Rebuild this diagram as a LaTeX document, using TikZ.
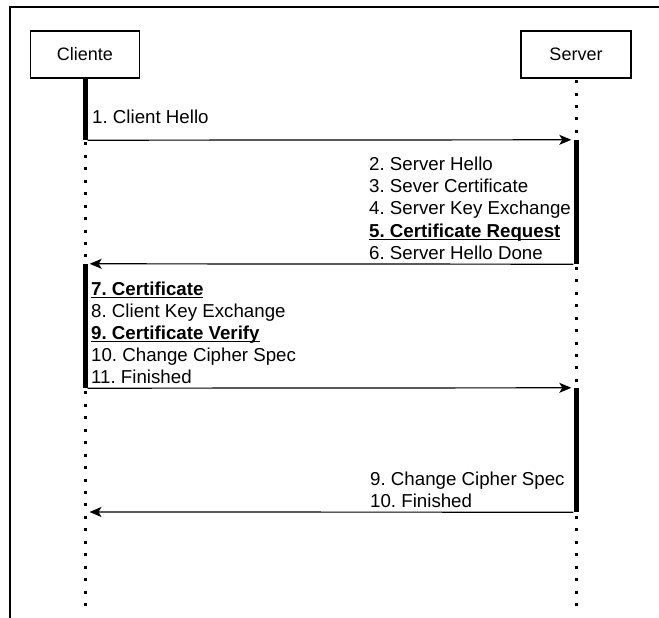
\documentclass[tikz,border=0pt]{standalone}
\usepackage{fontspec}
\setmainfont{Liberation Sans}
\usetikzlibrary{arrows.meta}
\frenchspacing
\newcommand\ulb[1]{\setbox0\hbox{\bfseries #1}\rlap{\rule[-2.8pt]{\wd0}{1.3pt}}\box0}
\begin{document}
\begin{tikzpicture}[x=1pt,y=-1pt,
 actor/.style={draw, line width=1.2pt, minimum width=109pt, minimum height=47pt, inner sep=0pt, font=\fontsize{18}{22}\selectfont},
 lifeline/.style={line width=3pt, dash pattern=on 3pt off 9.45pt},
 actbar/.style={fill=black, draw=none, minimum width=5pt, inner sep=0pt},
 msg/.style={line width=1.2pt, -{Stealth[length=12pt,width=10pt,inset=3pt]}, shorten >=2pt},
 lbl/.style={anchor=base west, inner sep=0pt, font=\fontsize{18.7}{22}\selectfont\frenchspacing},
 frame/.style={line width=1.5pt}]
\useasboundingbox (0,0) rectangle (659,618);
% frame
\draw[frame] (10,618) -- (10,7) -- (659,7);
% actors
\node[actor] (cl) at (85,54.5) {Cliente};
\node[actor, minimum width=110pt] (sv) at (576,54.5) {Server};
% lifelines
\coordinate (clend) at (85,605.5);
\coordinate (svend) at (576,605.5);
\draw[lifeline] ([yshift=-1.5pt]cl.south) -- (clend);
\draw[lifeline] ([yshift=-1.5pt]sv.south) -- (svend);
% activation bars
\node[actbar, minimum height=62pt] (cb1) at (85,109) {};
\node[actbar, minimum height=124pt] (sb1) at (576,202) {};
\node[actbar, minimum height=124pt] (cb2) at (85,326) {};
\node[actbar, minimum height=124pt] (sb2) at (576,450) {};
% messages
\draw[msg] (cb1.south east) -- (sb1.north west);
\draw[msg] (sb1.south west) -- (cb2.north east);
\draw[msg] (cb2.south east) -- (sb2.north west);
\coordinate (end4) at (87.5,512);
\draw[msg] (sb2.south west) -- (end4);
% labels
\node[lbl] (m1) at (92,123) {1. Client Hello};
\node[lbl] (m2) at (369,170) {2. Server Hello};
\node[lbl] (m3) at (369,192.3) {3. Sever Certificate};
\node[lbl] (m4) at (369,214.6) {4. Server Key Exchange};
\node[lbl] (m5) at (369,237) {\ulb{5. Certificate Request}};
\node[lbl] (m6) at (369,259.3) {6. Server Hello Done};
\node[lbl] (m7) at (91,295) {\ulb{7. Certificate}};
\node[lbl] (m8) at (91,317) {8. Client Key Exchange};
\node[lbl] (m9) at (91,339) {\ulb{9. Certificate Verify}};
\node[lbl] (m10) at (91,361) {10. Change Cipher Spec};
\node[lbl] (m11) at (91,383) {11. Finished};
\node[lbl] (m12) at (370,485) {9. Change Cipher Spec};
\node[lbl] (m13) at (370,507) {10. Finished};
\end{tikzpicture}
\end{document}
